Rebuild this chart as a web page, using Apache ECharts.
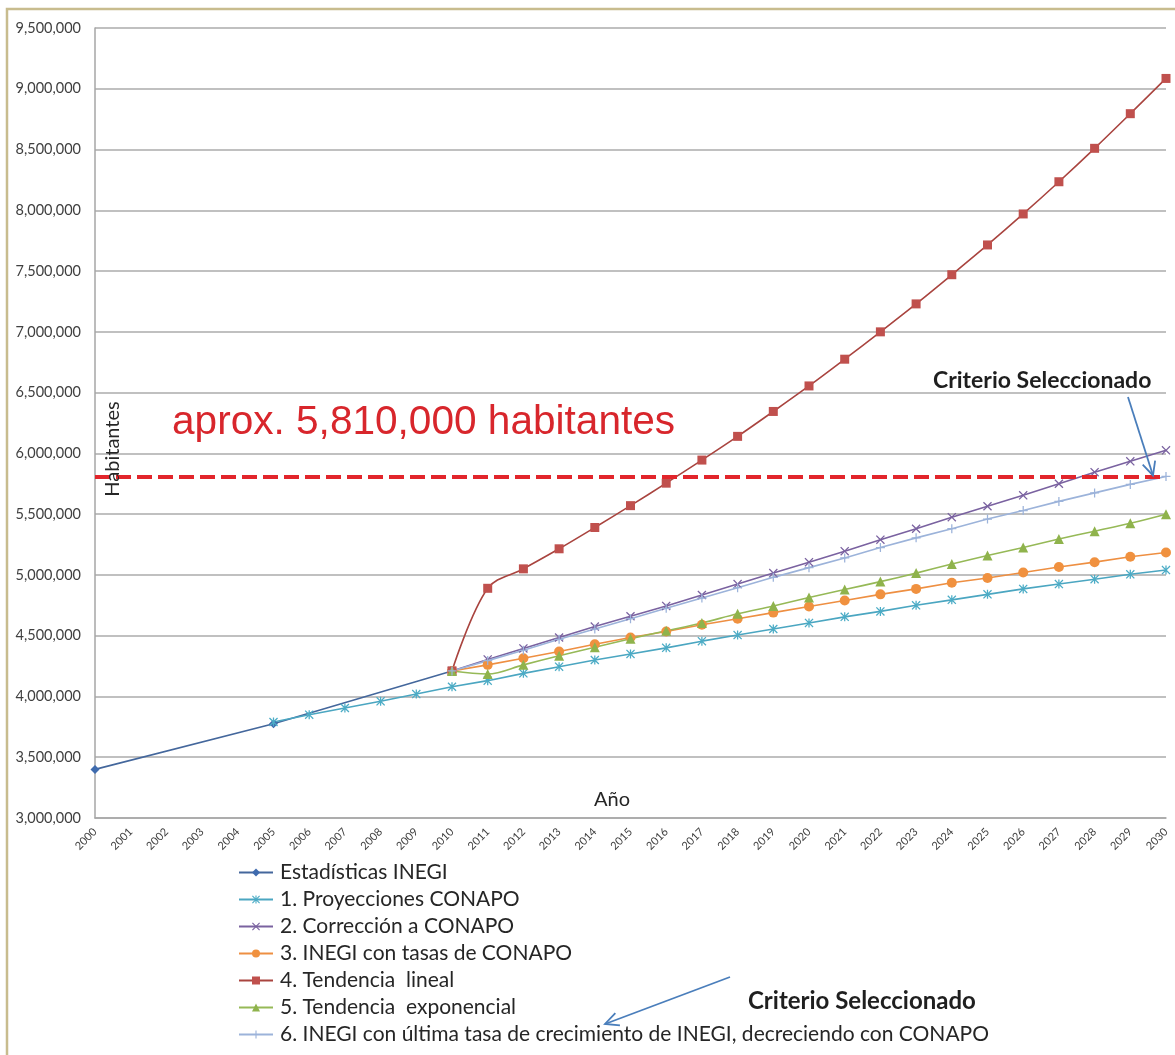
<!DOCTYPE html>
<html>
<head>
<meta charset="utf-8">
<title>Proyecciones de población 2000-2030</title>
<script src="https://cdn.jsdelivr.net/npm/echarts@6/dist/echarts.min.js"></script>
<style>
  html, body { margin: 0; padding: 0; background: #ffffff; }
  #chart { width: 1175px; height: 1055px; }
</style>
</head>
<body>
<div id="chart"></div>
<script>
// Year categories along the x axis
const years = ['2000','2001','2002','2003','2004','2005','2006','2007','2008','2009',
  '2010','2011','2012','2013','2014','2015','2016','2017','2018','2019',
  '2020','2021','2022','2023','2024','2025','2026','2027','2028','2029','2030'];

// Census figures (2000, 2005, 2010)
const estadisticasINEGI = [3400000, null, null, null, null, 3775000, null, null, null, null, 4210000];

// 1. CONAPO projections, from 2005
const proyeccionesCONAPO = [null, null, null, null, null,
  3790000, 3850000, 3905000, 3960000, 4020000,
  4080000, 4130000, 4190000, 4245000, 4300000,
  4350000, 4400000, 4455000, 4505000, 4555000,
  4605000, 4655000, 4700000, 4750000, 4795000,
  4840000, 4885000, 4925000, 4965000, 5005000, 5040000];

// 2..6 scenarios start from the 2010 census value
const pre2010 = [null, null, null, null, null, null, null, null, null, null];

const correccionCONAPO = pre2010.concat([
  4210000, 4305000, 4395000, 4485000, 4575000, 4660000, 4745000, 4835000, 4925000, 5015000,
  5105000, 5195000, 5290000, 5380000, 5475000, 5565000, 5655000, 5750000, 5845000, 5935000, 6025000]);

const inegiTasasCONAPO = pre2010.concat([
  4210000, 4260000, 4315000, 4370000, 4430000, 4485000, 4535000, 4590000, 4640000, 4690000,
  4740000, 4790000, 4840000, 4885000, 4935000, 4975000, 5020000, 5065000, 5105000, 5150000, 5185000]);

const tendenciaLineal = pre2010.concat([
  4210000, 4890000, 5050000, 5215000, 5390000, 5570000, 5755000, 5945000, 6140000, 6345000,
  6555000, 6775000, 7000000, 7230000, 7470000, 7715000, 7970000, 8235000, 8510000, 8795000, 9085000]);

const tendenciaExponencial = pre2010.concat([
  4210000, 4185000, 4260000, 4335000, 4405000, 4475000, 4540000, 4605000, 4680000, 4745000,
  4815000, 4880000, 4945000, 5015000, 5090000, 5160000, 5225000, 5295000, 5360000, 5425000, 5500000]);

const ultimaTasaINEGI = pre2010.concat([
  4210000, 4295000, 4380000, 4470000, 4555000, 4640000, 4725000, 4810000, 4895000, 4980000,
  5060000, 5140000, 5225000, 5305000, 5380000, 5460000, 5530000, 5605000, 5675000, 5745000, 5810000]);

// Selected criterion value (horizontal reference)
const criterioSeleccionado = 5810000;

// Y axis range
const yMin = 3000000, yMax = 9500000, yStep = 500000;

const seriesNames = [
  'Estadísticas INEGI',
  '1. Proyecciones CONAPO',
  '2. Corrección a CONAPO',
  '3. INEGI con tasas de CONAPO',
  '4. Tendencia  lineal',
  '5. Tendencia  exponencial',
  '6. INEGI con última tasa de crecimiento de INEGI, decreciendo con CONAPO'
];

// Marker glyphs
const SYM_PLUS = 'path://M4.3,0H5.7V4.3H10V5.7H5.7V10H4.3V5.7H0V4.3H4.3Z';
const SYM_X = 'path://M1,0L5,4L9,0L10,1L6,5L10,9L9,10L5,6L1,10L0,9L4,5L0,1Z';
const SYM_STAR = 'path://M1,0L5,4L9,0L10,1L6,5L10,9L9,10L5,6L1,10L0,9L4,5L0,1Z M4.3,0H5.7V10H4.3Z';

const FONT = 'Lato, "Open Sans", sans-serif';

function lineSeries(name, data, lineColor, markColor, symbol, size, extra) {
  return Object.assign({
    name: name,
    type: 'line',
    data: data,
    connectNulls: true,
    symbol: symbol,
    symbolSize: size,
    showSymbol: true,
    lineStyle: { color: lineColor, width: 1.6 },
    itemStyle: { color: markColor, borderWidth: 0 },
    emphasis: { disabled: true },
    animation: false
  }, extra || {});
}

const chart = echarts.init(document.getElementById('chart'), null, { renderer: 'canvas' });

const option = {
  backgroundColor: '#ffffff',
  animation: false,
  grid: { left: 95, right: 9, top: 28, bottom: 237, containLabel: false },
  xAxis: {
    type: 'category',
    data: years,
    boundaryGap: false,
    axisLine: { show: true, lineStyle: { color: '#A6A6A6', width: 1.5 } },
    axisTick: { show: false },
    axisLabel: {
      interval: 0, rotate: 45, fontSize: 11, color: '#404040', margin: 12,
      fontFamily: FONT
    },
    splitLine: { show: false }
  },
  yAxis: {
    type: 'value',
    min: yMin, max: yMax, interval: yStep,
    axisLine: { show: true, lineStyle: { color: '#A6A6A6', width: 1.5 } },
    axisTick: { show: false },
    axisLabel: {
      fontSize: 14.5, color: '#404040', margin: 14, fontFamily: FONT,
      formatter: v => v.toLocaleString('en-US')
    },
    splitLine: { show: true, lineStyle: { color: '#ABABAB', width: 1.5 } }
  },
  legend: {
    orient: 'vertical',
    left: 238,
    top: 862,
    padding: 0,
    itemWidth: 34,
    itemHeight: 10,
    itemGap: 6,
    selectedMode: false,
    textStyle: { fontSize: 21, lineHeight: 21, color: '#262626', fontFamily: FONT, padding: [0, 0, 0, 2] },
    data: seriesNames
  },
  series: [
    lineSeries(seriesNames[0], estadisticasINEGI, '#44679C', '#3F6BAE', 'diamond', 9),
    lineSeries(seriesNames[1], proyeccionesCONAPO, '#4BA6C1', '#4BACC6', SYM_STAR, 9),
    lineSeries(seriesNames[2], correccionCONAPO, '#7A62A0', '#7A62A0', SYM_X, 9),
    lineSeries(seriesNames[3], inegiTasasCONAPO, '#EE8F42', '#F0913F', 'circle', 10),
    lineSeries(seriesNames[4], tendenciaLineal, '#A9443F', '#C0504D', 'rect', 9, { smooth: 0.35 }),
    lineSeries(seriesNames[5], tendenciaExponencial, '#96B957', '#8FB34C', 'triangle', 10, { smooth: 0.35 }),
    lineSeries(seriesNames[6], ultimaTasaINEGI, '#9CB3DA', '#9CB3DA', SYM_PLUS, 9, {
      markLine: {
        silent: true,
        symbol: 'none',
        animation: false,
        label: { show: false },
        lineStyle: { color: '#E2252B', width: 4, type: [15, 6] },
        data: [{ yAxis: criterioSeleccionado }]
      }
    })
  ]
};

chart.setOption(option);

// Open arrow (shaft plus two head strokes) from p0 to the tip p1
function arrow(p0, p1, color) {
  const ang = Math.atan2(p1[1] - p0[1], p1[0] - p0[0]);
  const L = 15, spread = 0.45;
  const h1 = [p1[0] - L * Math.cos(ang - spread), p1[1] - L * Math.sin(ang - spread)];
  const h2 = [p1[0] - L * Math.cos(ang + spread), p1[1] - L * Math.sin(ang + spread)];
  const style = { stroke: color, lineWidth: 1.8, fill: null };
  return [
    { type: 'polyline', shape: { points: [p0, p1] }, style: style, z: 120, silent: true },
    { type: 'polyline', shape: { points: [h1, p1, h2] }, style: style, z: 120, silent: true }
  ];
}

// Tip of the upper arrow sits on the selected value at the last year
const tip = chart.convertToPixel({ gridIndex: 0 }, [years[years.length - 1], criterioSeleccionado]);

const graphics = [
  {
    type: 'rect', silent: true, z: 0,
    shape: { x: 7, y: 9, width: 1250, height: 1150 },
    style: { fill: null, stroke: '#C8BC8E', lineWidth: 2.5 }
  },
  {
    type: 'text', silent: true, z: 110,
    x: 172, y: 423,
    style: {
      text: 'aprox. 5,810,000 habitantes',
      font: '40.6px "Liberation Sans", Arial, sans-serif',
      fill: '#D8262C', align: 'left', verticalAlign: 'middle'
    }
  },
  {
    type: 'text', silent: true, z: 110,
    x: 113, y: 449, rotation: Math.PI / 2,
    style: {
      text: 'Habitantes', font: '20px ' + FONT,
      fill: '#262626', align: 'center', verticalAlign: 'middle'
    }
  },
  {
    type: 'text', silent: true, z: 110,
    x: 612, y: 800,
    style: {
      text: 'Año', font: '20px ' + FONT,
      fill: '#262626', align: 'center', verticalAlign: 'middle'
    }
  },
  {
    type: 'text', silent: true, z: 110,
    x: 933, y: 381,
    style: {
      text: 'Criterio Seleccionado', font: 'bold 23px ' + FONT,
      fill: '#1F1F1F', align: 'left', verticalAlign: 'middle'
    }
  },
  {
    type: 'text', silent: true, z: 110,
    x: 748, y: 1001,
    style: {
      text: 'Criterio Seleccionado', font: 'bold 24px ' + FONT,
      fill: '#1F1F1F', align: 'left', verticalAlign: 'middle'
    }
  }
].concat(
  arrow([1128, 397], [tip[0] - 13, tip[1] - 1], '#4A7EBB'),
  arrow([730, 977], [605, 1024], '#4A7EBB')
);

chart.setOption({ graphic: graphics });
</script>
</body>
</html>
